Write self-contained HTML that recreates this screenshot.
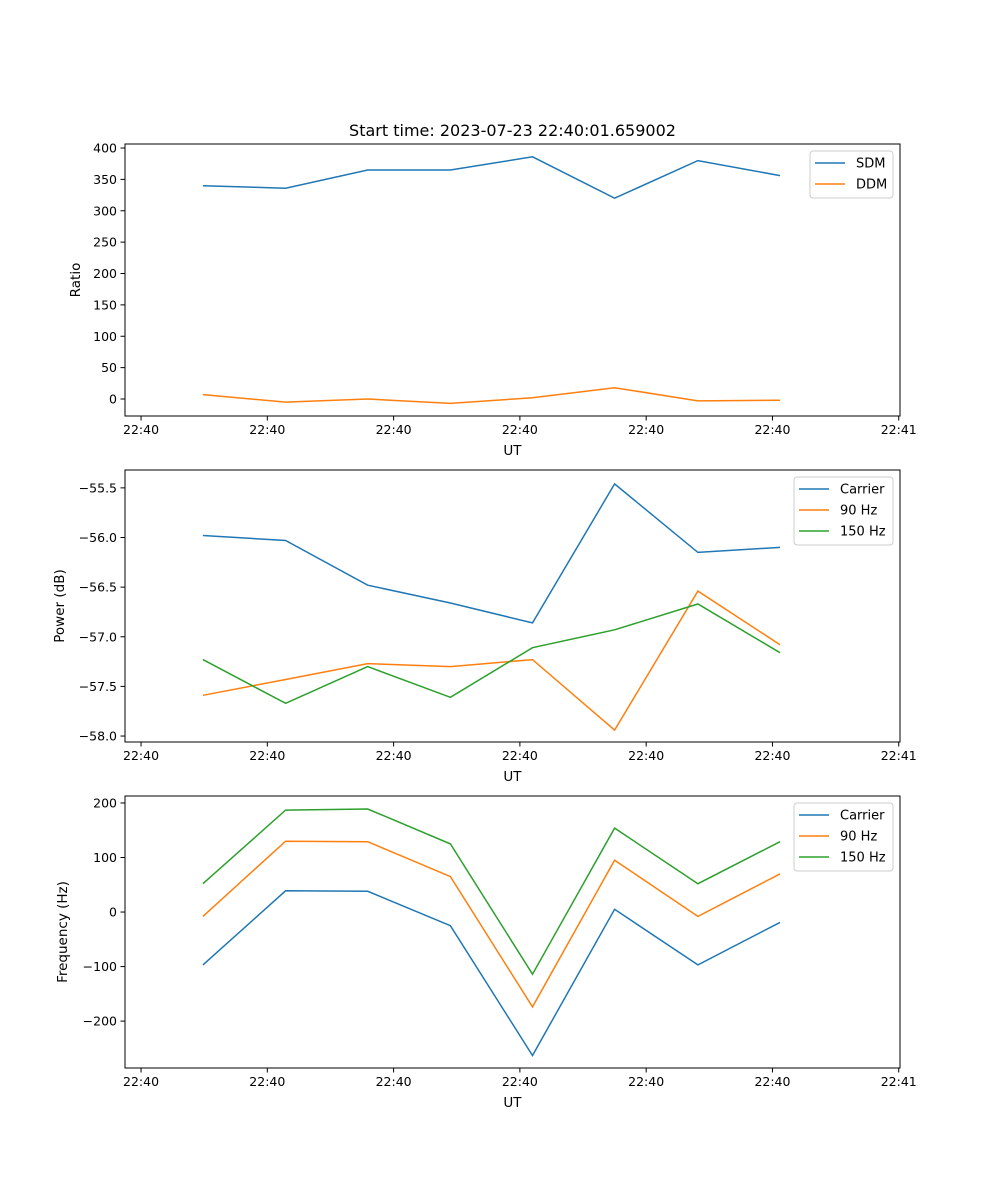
<!DOCTYPE html>
<html><head><meta charset="utf-8"><style>
body{margin:0;background:#fff}
svg{display:block;font-family:"DejaVu Sans","Liberation Sans",sans-serif}
</style></head><body>
<svg id="fig" width="1000" height="1200">
<text x="512.5" y="136" font-size="16" text-anchor="middle">Start time: 2023-07-23 22:40:01.659002</text>
</svg>
<script>
const times = [4.9, 11.45, 17.95, 24.5, 31.0, 37.5, 44.1, 50.6];
const xTickVals = [0, 10, 20, 30, 40, 50, 60];
const xTickLabels = ["22:40","22:40","22:40","22:40","22:40","22:40","22:41"];
const sdm = [340, 336, 365, 365, 386, 320, 380, 356];
const ddm = [7, -5, 0, -7, 2, 18, -3, -2];
const powCarrier = [-55.98, -56.03, -56.48, -56.66, -56.86, -55.46, -56.15, -56.10];
const pow90 = [-57.59, -57.43, -57.27, -57.30, -57.23, -57.94, -56.54, -57.08];
const pow150 = [-57.23, -57.67, -57.30, -57.61, -57.11, -56.93, -56.67, -57.16];
const freqCarrier = [-97, 39, 38, -25, -263, 5, -97, -19];
const freq90 = [-8, 130, 129, 65, -174, 95, -8, 70];
const freq150 = [52, 187, 189, 125, -114, 154, 52, 129];
const ratioTicks = [0, 50, 100, 150, 200, 250, 300, 350, 400];
const powerTicks = [-58.0, -57.5, -57.0, -56.5, -56.0, -55.5];
const freqTicks = [-200, -100, 0, 100, 200];

const NS = "http://www.w3.org/2000/svg";
const svg = document.getElementById('fig');
const C = ["#1f77b4", "#ff7f0e", "#2ca02c"];
function el(tag, attrs, parent) {
  const e = document.createElementNS(NS, tag);
  for (const k in attrs) e.setAttribute(k, attrs[k]);
  (parent || svg).appendChild(e);
  return e;
}
const L = 125, R = 900, xmin = -1.27, xmax = 60.1;
const xs = v => L + (v - xmin) / (xmax - xmin) * (R - L);

function panel(name, top, bottom, ymin, ymax, yTicks, fmt, ylabel, series, labels, legend) {
  const g = el('g', {});
  
  
  const ys = v => bottom - (v - ymin) / (ymax - ymin) * (bottom - top);
  series.forEach((s, i) => {
    const p = el('polyline', {points: s.map((v, j) => xs(times[j]).toFixed(1) + ',' + ys(v).toFixed(1)).join(' '), fill: 'none', stroke: C[i], 'stroke-width': 1.5}, g);
    
    
  });
  const frame = el('rect', {x: L, y: top, width: R - L, height: bottom - top, fill: 'none', stroke: '#000', 'stroke-width': 1}, g);
  
  
  xTickVals.forEach((v, i) => {
    const x = xs(v);
    el('line', {x1: x, x2: x, y1: bottom, y2: bottom + 4.5, stroke: '#000'}, g);
    const t = el('text', {x: x, y: bottom + 18, 'font-size': 12.5, 'text-anchor': 'middle'}, g);
    t.textContent = xTickLabels[i];
    
    
  });
  yTicks.forEach(v => {
    const y = ys(v);
    el('line', {x1: L - 4.5, x2: L, y1: y, y2: y, stroke: '#000'}, g);
    const t = el('text', {x: L - 8, y: y + 4.5, 'font-size': 12.5, 'text-anchor': 'end'}, g);
    t.textContent = fmt(v);
    
    
  });
  const xl = el('text', {x: (L + R) / 2, y: bottom + 39, 'font-size': 13.5, 'text-anchor': 'middle'}, g);
  xl.textContent = 'UT';
  
  
  const yl = el('text', {x: 0, y: 0, 'font-size': 13.5, 'text-anchor': 'middle', transform: `translate(${legend.ylx},${(top + bottom) / 2}) rotate(-90)`}, g);
  yl.textContent = ylabel;
  
  
  const lg = el('g', {}, g);
  
  
  el('rect', {x: legend.x, y: top + 7, width: 893 - legend.x, height: labels.length * 21 + 5, rx: 3, fill: '#fff', 'fill-opacity': 0.8, stroke: '#ccc'}, lg);
  labels.forEach((lab, i) => {
    const y = top + 19 + i * 21;
    el('line', {x1: legend.x + 5, x2: legend.x + 35, y1: y, y2: y, stroke: C[i], 'stroke-width': 1.5}, lg);
    const t = el('text', {x: legend.x + 46, y: y + 4.5, 'font-size': 13}, lg);
    t.textContent = lab;
    
    
  });
}
panel('ratio', 144, 416, -27.1, 406.4, ratioTicks, v => String(v), 'Ratio', [sdm, ddm], ['SDM', 'DDM'], {x: 810, ylx: 80});
panel('power', 470, 742, -58.06, -55.32, powerTicks, v => v.toFixed(1).replace('-', '\u2212'), 'Power (dB)', [powCarrier, pow90, pow150], ['Carrier', '90 Hz', '150 Hz'], {x: 794, ylx: 64});
panel('frequency', 796, 1068, -286, 212.8, freqTicks, v => String(v).replace('-', '\u2212'), 'Frequency (Hz)', [freqCarrier, freq90, freq150], ['Carrier', '90 Hz', '150 Hz'], {x: 794, ylx: 67});
</script>
</body></html>
